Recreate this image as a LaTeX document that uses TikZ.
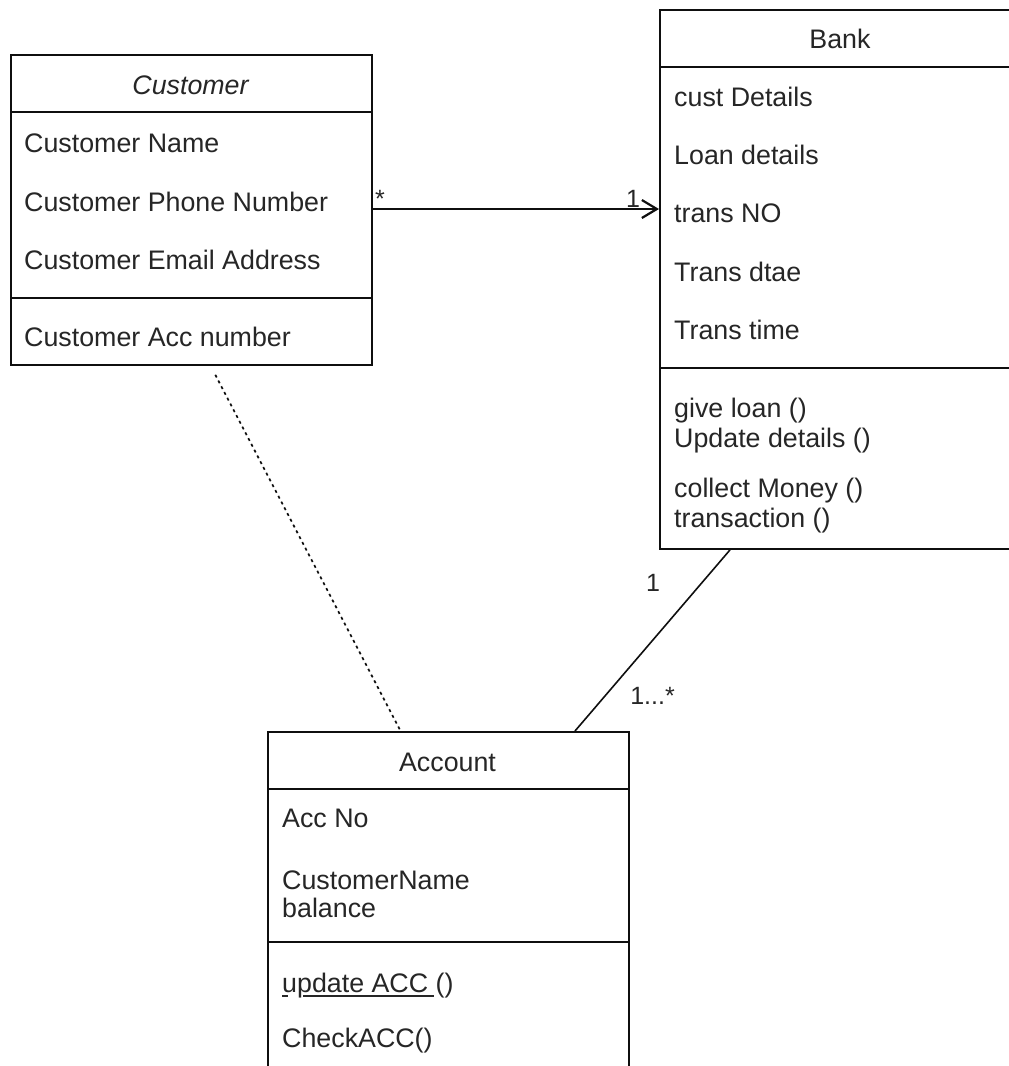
\documentclass[tikz,border=0pt]{standalone}
\usepackage{fontspec}
\setmainfont{Liberation Sans}
\usetikzlibrary{arrows.meta,calc}
\definecolor{tcol}{RGB}{38,38,38}
\definecolor{lcol}{RGB}{15,15,15}
\begin{document}
\begin{tikzpicture}[x=1pt,y=-1pt,
  classbox/.style={draw=lcol, line width=1.9pt, anchor=north west, inner sep=0pt, fill=white},
  sepline/.style={draw=lcol, line width=1.9pt},
  txt/.style={anchor=base west, inner sep=0pt, font=\fontsize{26.8}{30}\selectfont, text=tcol},
  ttl/.style={anchor=base, inner sep=0pt, font=\fontsize{26.8}{30}\selectfont, text=tcol},
  lbl/.style={anchor=base, inner sep=0pt, font=\fontsize{25}{30}\selectfont, text=tcol},
  assoc/.style={draw=lcol, line width=1.6pt},
  depend/.style={draw=lcol, line width=1.7pt, dash pattern=on 3pt off 3.5pt},
  ul/.style={draw=tcol, line width=1.6pt},
]
\useasboundingbox (0,0) rectangle (1009,1066);
\clip (0,0) rectangle (1009,1066);

% class boxes
\node[classbox, minimum width=361pt, minimum height=310pt] (cust) at (10,54) {};
\node[classbox, minimum width=362pt, minimum height=539pt] (bank) at (659,9) {};
\node[classbox, minimum width=361pt, minimum height=360pt] (acct) at (267,731) {};

% compartments
\draw[sepline] ($(cust.north west)+(0,58)$) -- ($(cust.north east)+(0,58)$);
\draw[sepline] ($(cust.north west)+(0,244)$) -- ($(cust.north east)+(0,244)$);
\draw[sepline] ($(bank.north west)+(0,58)$) -- ($(bank.north east)+(0,58)$);
\draw[sepline] ($(bank.north west)+(0,359)$) -- ($(bank.north east)+(0,359)$);
\draw[sepline] ($(acct.north west)+(0,58)$) -- ($(acct.north east)+(0,58)$);
\draw[sepline] ($(acct.north west)+(0,211)$) -- ($(acct.north east)+(0,211)$);

% Customer texts
\node[ttl] (cT) at (190.5,94.5) {\itshape Customer};
\node[txt] (c1) at (24,152.5) {Customer Name};
\node[txt] (c2) at (24,211) {Customer Phone Number};
\node[txt] (c3) at (24,269.5) {Customer Email Address};
\node[txt] (c4) at (24,346.5) {Customer Acc number};

% Bank texts
\node[ttl] (bT) at (840,48.5) {Bank};
\node[txt] (b1) at (674,106.5) {cust Details};
\node[txt] (b2) at (674,164.5) {Loan details};
\node[txt] (b3) at (674,222.5) {trans NO};
\node[txt] (b4) at (674,281.5) {Trans dtae};
\node[txt] (b5) at (674,339.5) {Trans time};
\node[txt] (b6) at (674,417.5) {give loan ()};
\node[txt] (b7) at (674,447.5) {Update details ()};
\node[txt] (b8) at (674,497.5) {collect Money ()};
\node[txt] (b9) at (674,527.5) {transaction ()};

% Account texts
\node[ttl] (aT) at (447.5,771.5) {Account};
\node[txt] (a1) at (282,827.5) {Acc No};
\node[txt] (a2) at (282,889.5) {CustomerName};
\node[txt] (a3) at (282,917.5) {balance};
\node[txt] (a4) at (282,992.5) {update ACC\ ()};
\node[txt] (a5) at (282,1047.5) {CheckACC()};
\draw[ul] ($(a4.base west)+(0,3.5)$) -- ($(a4.base west)+(6,3.5)$);
\draw[ul] ($(a4.base west)+(21,3.5)$) -- ($(a4.base west)+(152,3.5)$);

% connectors
\draw[assoc, -{Straight Barb[length=15pt,width=18pt,line width=2.2pt]}]
  ($(cust.north east)+(0,155)$) -- ($(bank.north west)+(0,200)$);
\draw[depend, shorten <=10pt]
  ($(cust.south west)!0.553!(cust.south east)$) -- ($(acct.north west)!0.368!(acct.north east)$);
\draw[assoc] ($(bank.south west)+(71,0)$) -- ($(acct.north west)+(308,0)$);

% multiplicity labels
\node[lbl] (m1) at (380,207) {*};
\node[lbl] (m2) at (633,207) {1};
\node[lbl] (m3) at (653,591) {1};
\node[lbl] (m4) at (652.5,704) {1...*};
\end{tikzpicture}
\end{document}
